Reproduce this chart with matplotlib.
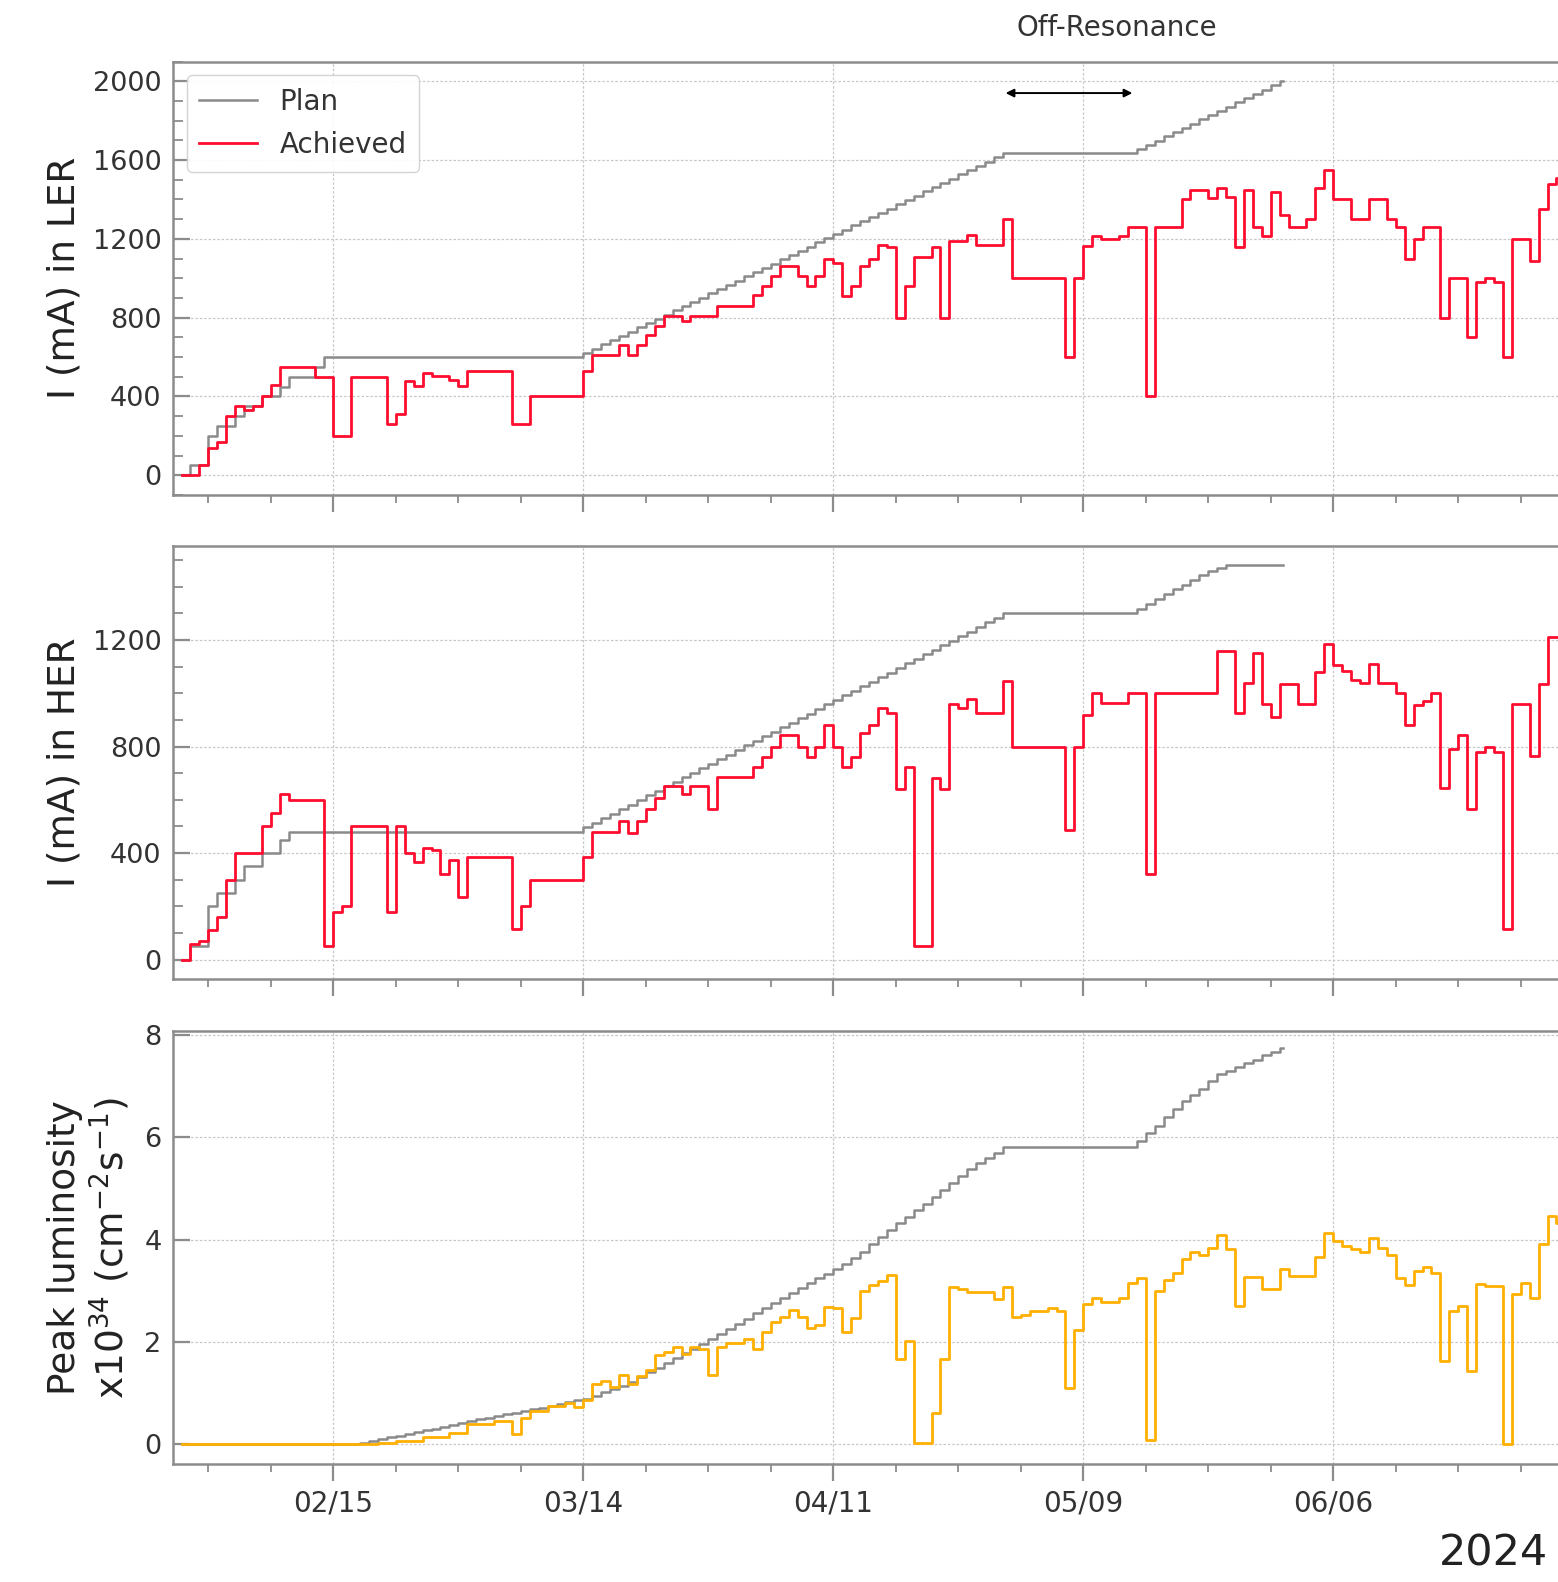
import datetime as dt

import numpy as np
import matplotlib
matplotlib.use("Agg")
import matplotlib.pyplot as plt
import matplotlib.dates as mdates
import matplotlib.ticker as mticker

# All days are counted from 2024-02-15 (negative = late January).
# Step series: value holds from its day until the next day in the list.

ler_plan_day = ([-17, -16, -14, -13, -11, -10, -8, -6, -5, -2, -1]
                + list(range(28, 76)) + list(range(90, 107)) + [106.4])
ler_plan_val = ([0, 50, 200, 250, 300, 350, 400, 450, 500, 550, 600]
                + [622, 643, 665, 686, 708, 729, 751, 772, 794, 816, 837, 859,
                   880, 902, 923, 945, 966, 988, 1010, 1031, 1053, 1074, 1096,
                   1117, 1139, 1160, 1182, 1204, 1225, 1247, 1268, 1290, 1311,
                   1333, 1354, 1376, 1398, 1419, 1441, 1462, 1484, 1505, 1527,
                   1548, 1570, 1592, 1613, 1635]
                + [1656, 1678, 1699, 1721, 1742, 1764, 1785, 1807, 1828, 1850,
                   1871, 1893, 1914, 1936, 1957, 1979, 2000]
                + [2000])

ler_day = [-17, -15, -14, -13, -12, -11, -10, -9, -8, -7, -6, -2, 0, 2, 6, 7,
           8, 9, 10, 11, 13, 14, 15, 20, 22, 28, 29, 32, 33, 34, 35, 36, 37,
           39, 40, 43, 47, 48, 49, 50, 52, 53, 54, 55, 56, 57, 58, 59, 60, 61,
           62, 63, 64, 65, 67, 68, 69, 71, 72, 75, 76, 82, 83, 84, 85, 86, 88,
           89, 91, 92, 95, 96, 98, 99, 100, 101, 102, 103, 104, 105, 106, 107,
           109, 110, 111, 112, 114, 116, 118, 119, 120, 121, 122, 124, 125,
           127, 128, 129, 130, 131, 132, 134, 135, 136, 137, 140]
ler_val = [0, 50, 140, 170, 300, 350, 330, 350, 400, 460, 550, 500, 200, 500,
           260, 310, 480, 455, 520, 505, 485, 455, 530, 260, 400, 530, 610, 660,
           610, 660, 710, 760, 810, 785, 810, 860, 915, 960, 1010, 1060, 1010,
           960, 1010, 1100, 1080, 910, 960, 1060, 1100, 1170, 1160, 800, 960,
           1110, 1160, 800, 1190, 1220, 1170, 1300, 1000, 600, 1000, 1165,
           1215, 1200, 1215, 1260, 400, 1260, 1400, 1450, 1405, 1460, 1415,
           1160, 1450, 1260, 1215, 1440, 1320, 1260, 1300, 1460, 1550, 1400,
           1300, 1400, 1300, 1260, 1100, 1200, 1260, 800, 1000, 700, 980, 1000,
           980, 600, 1200, 1090, 1350, 1480, 1510, 1510]

her_plan_day = ([-17, -16, -14, -13, -11, -10, -8, -6, -5]
                + list(range(28, 76)) + list(range(90, 101)) + [106.4])
her_plan_val = ([0, 50, 200, 250, 300, 350, 400, 450, 480]
                + [497, 514, 531, 548, 565, 582, 600, 617, 634, 651, 668, 685,
                   702, 719, 736, 753, 770, 788, 805, 822, 839, 856, 873, 890,
                   907, 924, 941, 958, 976, 993, 1010, 1027, 1044, 1061, 1078,
                   1095, 1112, 1129, 1146, 1164, 1181, 1198, 1215, 1232, 1249,
                   1266, 1283, 1300]
                + [1318, 1336, 1354, 1372, 1390, 1408, 1426, 1444, 1460, 1472,
                   1480]
                + [1480])

her_day = [-17, -16, -15, -14, -13, -12, -11, -8, -7, -6, -5, -1, 0, 1, 2, 6,
           7, 8, 9, 10, 11, 12, 13, 14, 15, 20, 21, 22, 28, 29, 32, 33, 34, 35,
           36, 37, 39, 40, 42, 43, 47, 48, 49, 50, 52, 53, 54, 55, 56, 57, 58,
           59, 60, 61, 62, 63, 64, 65, 67, 68, 69, 70, 71, 72, 75, 76, 82, 83,
           84, 85, 86, 89, 91, 92, 99, 101, 102, 103, 104, 105, 106, 108, 110,
           111, 112, 113, 114, 115, 116, 117, 119, 120, 121, 122, 123, 124,
           125, 126, 127, 128, 129, 130, 131, 132, 134, 135, 136, 140]
her_val = [0, 60, 70, 110, 160, 300, 400, 500, 550, 620, 600, 50, 180, 200,
           500, 180, 500, 400, 365, 420, 410, 320, 375, 235, 385, 115, 200, 300,
           385, 480, 520, 475, 520, 565, 605, 650, 620, 650, 565, 685, 725, 760,
           800, 845, 800, 760, 800, 880, 800, 725, 760, 850, 880, 945, 925, 640,
           725, 50, 680, 640, 960, 946, 980, 925, 1045, 800, 485, 800, 920,
           1000, 965, 1000, 320, 1000, 1160, 925, 1040, 1150, 960, 910, 1035,
           960, 1080, 1185, 1105, 1085, 1050, 1040, 1110, 1040, 1000, 880, 955,
           970, 1000, 645, 790, 845, 565, 780, 800, 780, 115, 960, 765, 1035,
           1210, 1210]

lum_plan_day = [-17] + list(range(3, 76)) + list(range(90, 107)) + [106.4]
lum_plan_val = ([0]
                + [0.03, 0.07, 0.10, 0.14, 0.17, 0.21, 0.24, 0.28, 0.31, 0.35,
                   0.38, 0.42, 0.45, 0.49, 0.52, 0.56, 0.59, 0.62, 0.66, 0.69,
                   0.72, 0.75, 0.79, 0.82, 0.86, 0.89]
                + [0.95, 1.02, 1.08, 1.15, 1.22, 1.31, 1.41, 1.50, 1.60, 1.69,
                   1.78, 1.87, 1.96, 2.06, 2.16, 2.26, 2.36, 2.46, 2.56, 2.66,
                   2.76, 2.86, 2.96, 3.06, 3.15, 3.25, 3.33, 3.42, 3.53, 3.64,
                   3.77, 3.91, 4.05, 4.19, 4.33, 4.45, 4.58, 4.70, 4.83, 4.97,
                   5.10, 5.24, 5.38, 5.49, 5.60, 5.70, 5.81]
                + [5.93, 6.08, 6.22, 6.40, 6.55, 6.72, 6.83, 6.94, 7.10, 7.24,
                   7.30, 7.38, 7.45, 7.52, 7.60, 7.67, 7.74]
                + [7.74])

lum_day = [-17, 5, 7, 10, 13, 15, 18, 20, 21, 22, 24, 26, 27, 28, 29, 30, 31,
           32, 33, 34, 35, 36, 37, 38, 39, 40, 41, 42, 43, 44, 46, 47, 48, 49,
           50, 51, 52, 53, 54, 55, 56, 57, 58, 59, 60, 61, 62, 63, 64, 65, 67,
           68, 69, 70, 71, 74, 75, 76, 77, 78, 80, 81, 82, 83, 84, 85, 86, 88,
           89, 90, 91, 92, 93, 94, 95, 96, 97, 98, 99, 100, 101, 102, 104, 106,
           107, 110, 111, 112, 113, 114, 115, 116, 117, 118, 119, 120, 121, 122,
           123, 124, 125, 126, 127, 128, 129, 131, 132, 133, 134, 135, 136, 137,
           140]
lum_val = [0, 0.03, 0.07, 0.15, 0.22, 0.40, 0.45, 0.20, 0.52, 0.66, 0.76, 0.80,
           0.74, 0.86, 1.18, 1.23, 1.13, 1.36, 1.18, 1.33, 1.45, 1.74, 1.80,
           1.91, 1.77, 1.91, 1.87, 1.36, 1.91, 1.98, 2.06, 1.87, 2.20, 2.39,
           2.49, 2.62, 2.49, 2.28, 2.33, 2.69, 2.66, 2.20, 2.47, 3.00, 3.11,
           3.20, 3.32, 1.67, 2.03, 0.02, 0.62, 1.67, 3.08, 3.04, 2.98, 2.84,
           3.08, 2.49, 2.53, 2.60, 2.66, 2.60, 1.11, 2.24, 2.74, 2.86, 2.79,
           2.87, 3.16, 3.26, 0.09, 3.00, 3.21, 3.35, 3.63, 3.76, 3.71, 3.83,
           4.10, 3.81, 2.71, 3.28, 3.03, 3.42, 3.30, 3.66, 4.14, 3.98, 3.88,
           3.81, 3.77, 4.03, 3.84, 3.70, 3.26, 3.11, 3.39, 3.46, 3.35, 1.64,
           2.60, 2.71, 1.44, 3.13, 3.10, 0.01, 2.93, 3.15, 2.87, 3.92, 4.46,
           4.32, 4.32]

tick_labels = ["02/15", "03/14", "04/11", "05/09", "06/06"]
off_resonance = (75.3, 89.5)

PLAN = "#8a8a8a"
RED = "#ff0d2e"
AMBER = "#ffb000"
SPINE = "#8c8c8c"
TEXT = "#333333"

T0 = mdates.date2num(dt.datetime(2024, 2, 15))


def when(days):
    return T0 + np.asarray(days, dtype=float)


def style(ax, major, minor, labels):
    for s in ax.spines.values():
        s.set_color(SPINE)
        s.set_linewidth(1.8)
    ax.set_xlim(when(-18), when(146))
    ax.xaxis.set_major_locator(mticker.FixedLocator(when(np.arange(0, 113, 28))))
    ax.xaxis.set_minor_locator(mticker.FixedLocator(when(np.arange(-21, 147, 7))))
    if labels:
        ax.xaxis.set_major_formatter(mticker.FixedFormatter(tick_labels))
    else:
        ax.xaxis.set_major_formatter(mticker.NullFormatter())
    ax.yaxis.set_major_locator(mticker.MultipleLocator(major))
    if minor:
        ax.yaxis.set_minor_locator(mticker.MultipleLocator(minor))
    ax.tick_params(axis="y", which="major", direction="in", length=12, width=1.6,
                   color=SPINE, labelsize=19.5, labelcolor=TEXT, pad=8)
    ax.tick_params(axis="y", which="minor", direction="in", length=7, width=1.3,
                   color=SPINE)
    ax.tick_params(axis="x", which="major", direction="out", length=12, width=1.6,
                   color=SPINE, labelsize=20, labelcolor=TEXT, pad=6)
    ax.tick_params(axis="x", which="minor", direction="out", length=6, width=1.3,
                   color=SPINE)
    ax.grid(True, which="major", linestyle=(0, (2, 1.5)), linewidth=0.9,
            color="#c8c8c8")
    ax.set_axisbelow(True)


fig = plt.figure(figsize=(15.58, 15.82), dpi=100)
left, width, height = 0.1108, 0.9398, 0.274
ax1 = fig.add_axes([left, 0.6871, width, height])
ax2 = fig.add_axes([left, 0.3810, width, height])
ax3 = fig.add_axes([left, 0.0745, width, height])

ax1.step(when(ler_plan_day), ler_plan_val, where="post", color=PLAN, lw=1.8,
         label="Plan")
ax1.step(when(ler_day), ler_val, where="post", color=RED, lw=2.0,
         label="Achieved")
ax2.step(when(her_plan_day), her_plan_val, where="post", color=PLAN, lw=1.8)
ax2.step(when(her_day), her_val, where="post", color=RED, lw=2.0)
ax3.step(when(lum_plan_day), lum_plan_val, where="post", color=PLAN, lw=1.8)
ax3.step(when(lum_day), lum_val, where="post", color=AMBER, lw=2.0)

style(ax1, 400, 100, False)
style(ax2, 400, 100, False)
style(ax3, 2, None, True)
ax1.set_ylim(-100, 2100)
ax2.set_ylim(-74, 1554)
ax3.set_ylim(-0.385, 8.085)

leg = ax1.legend(loc="upper left", fontsize=20, handlelength=2.1,
                 handletextpad=0.8, labelspacing=0.55, borderpad=0.45,
                 fancybox=True, framealpha=0.9, edgecolor="#d0d0d0")
for t in leg.get_texts():
    t.set_color(TEXT)

ax1.annotate("", xy=(when(off_resonance[1]), 1940),
             xytext=(when(off_resonance[0]), 1940),
             arrowprops=dict(arrowstyle="<|-|>", color="black", lw=1.4,
                             mutation_scale=12, shrinkA=0, shrinkB=0))
fig.text(0.717, 0.9823, "Off-Resonance", ha="center", va="center",
         fontsize=20, color=TEXT)

fig.text(0.0415, 0.8243, "I (mA) in LER", rotation=90, ha="center",
         va="center", fontsize=27, color="#222222")
fig.text(0.0415, 0.5180, "I (mA) in HER", rotation=90, ha="center",
         va="center", fontsize=27, color="#222222")
fig.text(0.0575, 0.2111,
         "Peak luminosity\nx10$^{34}$ (cm$^{-2}$s$^{-1}$)", rotation=90,
         ha="center", va="center", multialignment="center", fontsize=27,
         color="#222222", linespacing=1.15)
fig.text(0.9583, 0.0177, "2024", ha="center", va="center", fontsize=31,
         color="#222222")

fig.savefig("out.png", dpi=100, facecolor="white")
